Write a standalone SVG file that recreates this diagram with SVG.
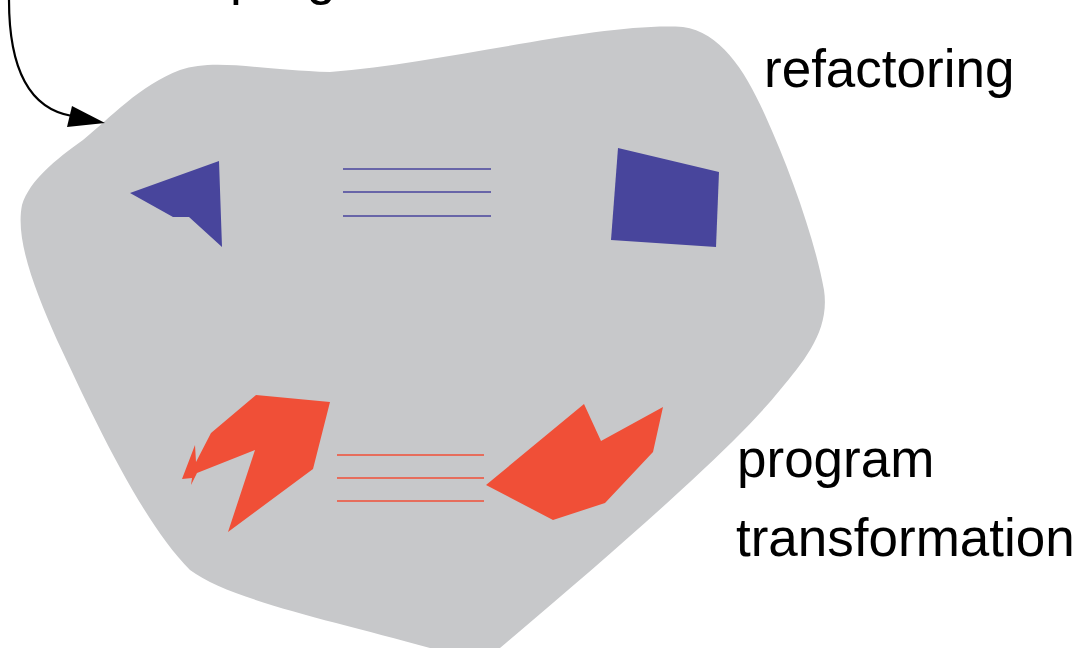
<svg xmlns="http://www.w3.org/2000/svg" width="1082" height="648" viewBox="0 0 1082 648">
<style>
.lbl{font-family:"Liberation Sans",Arial,sans-serif;font-size:53px;fill:#000}
.blue{fill:#48459c}
.red{fill:#f04f37}
.bl{stroke:#48459c;stroke-width:1.4;fill:none}
.rl{stroke:#f04f37;stroke-width:1.4;fill:none}
</style>
<g id="blob">
<path d="M83,140 C110,118 140,85 180,70 C215,58 260,70 330,72 C450,62 600,22 683,27 C720,32 745,70 765,115 C790,170 815,240 824,290 C830,330 805,360 780,390 C740,440 640,530 500,648 L430,648 C330,620 230,600 190,570 C140,520 90,410 57,340 C35,290 15,240 22,205 C30,180 55,160 83,140 Z" fill="#c7c8ca"/>
</g>
<g id="shape-blue-left"><polygon class="blue" points="130,193 219,161 222,247 189,217 173,217"/></g>
<g id="shape-blue-right"><polygon class="blue" points="618,148 719,172 716,247 611,240"/></g>
<g id="equiv-blue">
<line class="bl" x1="343" y1="169" x2="491" y2="169"/>
<line class="bl" x1="343" y1="192" x2="491" y2="192"/>
<line class="bl" x1="343" y1="216" x2="491" y2="216"/>
</g>
<g id="shape-red-left"><polygon class="red" points="256,395 330,402 313,469 228,532 255,450 197,473 191,485 192,478 182,479 195,445 196,462 211,433"/></g>
<g id="shape-red-right"><polygon class="red" points="584,404 601,441 663,407 653,452 605,503 553,520 486,485"/></g>
<g id="equiv-red">
<line class="rl" x1="337" y1="455" x2="484" y2="455"/>
<line class="rl" x1="337" y1="478" x2="484" y2="478"/>
<line class="rl" x1="337" y1="501" x2="484" y2="501"/>
</g>
<g id="connectors">
<path d="M9,0 C9,60 25,108 72,116" stroke="#000" stroke-width="2.2" fill="none"/>
<polygon points="105,123 67,127 72,106" fill="#000"/>
</g>
<g id="labels">
<text class="lbl" x="230" y="-6">program</text>
<text class="lbl" x="764" y="87">refactoring</text>
<text class="lbl" x="737" y="477">program</text>
<text class="lbl" x="736" y="556">transformation</text>
</g>
</svg>
